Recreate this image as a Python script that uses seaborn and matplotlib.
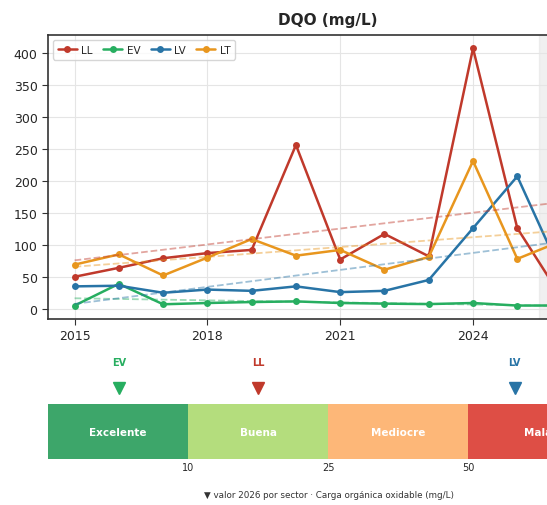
import numpy as np
import pandas as pd
import matplotlib
matplotlib.use('Agg')
import matplotlib.pyplot as plt
import seaborn as sns

# --- data ---
years = list(range(2015, 2027))
ll = [50, 64, 79, 87, 92, 256, 77, 117, 82, 407, 126, 17.5]
ev = [5, 39, 7, 9, 10.5, 11.5, 9, 8, 7.3, 9, 5, 5.1]
lv = [35, 36, 25, 30, 28, 35, 26, 28, 45, 126, 207, 55]
lt = [69, 85, 52, 80, 109, 83, 92, 61, 81, 231, 78, 106]

sectors = ['LL', 'EV', 'LV', 'LT']
colors = {'LL': '#c0392b', 'EV': '#27ae60', 'LV': '#2874a6', 'LT': '#e8961e'}

band_names = ['Excelente', 'Buena', 'Mediocre', 'Mala']
band_edges = [0, 10, 25, 50, 65]
band_colors = ['#3da66a', '#b4dd7d', '#fdb778', '#de4e45']

df = pd.DataFrame({'Año': years, 'LL': ll, 'EV': ev, 'LV': lv, 'LT': lt})
long_df = df.melt(id_vars='Año', var_name='Sector', value_name='DQO')

sns.set_style('whitegrid')
plt.rcParams['font.family'] = ['DejaVu Sans']

fig = plt.figure(figsize=(5.47, 5.06), dpi=100)
ax = fig.add_axes([0.0878, 0.3676, 1.0238, 0.5613])

# highlight current year
ax.axvspan(2025.5, 2026.5, color='#e6e6e6', alpha=0.6, zorder=0)

sns.lineplot(data=long_df, x='Año', y='DQO', hue='Sector', palette=colors,
             marker='o', markersize=5, markeredgewidth=0, linewidth=1.8, ax=ax)

# dashed linear trends
for s in sectors:
    k, b = np.polyfit(df['Año'], df[s], 1)
    xx = np.array([years[0], years[-1]])
    ax.plot(xx, k * xx + b, '--', color=colors[s], alpha=0.45, linewidth=1.3)

ax.set_xlim(2014.4, 2027.05)
ax.set_ylim(-16, 428)
ax.set_xticks([2015, 2018, 2021, 2024, 2027])
ax.set_yticks(range(0, 401, 50))
ax.tick_params(labelsize=9, length=4, color='#333333', left=True, bottom=True)
ax.set_xlabel('')
ax.set_ylabel('')
ax.grid(True, color='#e5e5e5', linewidth=0.8)
for sp in ax.spines.values():
    sp.set_color('#333333')
    sp.set_linewidth(1.2)
ax.set_title('DQO (mg/L)', fontsize=11, fontweight='bold', pad=8)
leg = ax.legend(loc='upper left', ncol=4, fontsize=7.5, handlelength=1.8,
                columnspacing=1.0, handletextpad=0.45, borderpad=0.45,
                frameon=True, title=None)
leg.get_frame().set_edgecolor('#cccccc')

# --- quality bar with 2026 value per sector ---
bx = fig.add_axes([0.0878, 0.0909, 1.0238, 0.1087])
for i, (name, c) in enumerate(zip(band_names, band_colors)):
    bx.barh(0.5, 1, left=i, height=1, color=c, edgecolor='none')
    bx.text(i + 0.5, 0.5, name, ha='center', va='center', color='white',
            fontsize=7.5, fontweight='bold')
bx.set_xlim(0, 4)
bx.set_ylim(0, 1)
bx.set_xticks([1, 2, 3])
bx.set_xticklabels([str(v) for v in band_edges[1:4]])
bx.tick_params(axis='x', length=0, labelsize=7, pad=2)
bx.set_yticks([])
bx.grid(False)
for sp in bx.spines.values():
    sp.set_visible(False)

for s in sectors:
    v = df[s].iloc[-1]
    p = np.interp(v, band_edges, range(len(band_edges)))
    bx.plot(p, 1.29, marker='v', markersize=9, color=colors[s], clip_on=False)
    bx.text(p, 1.76, s, ha='center', va='center', color=colors[s],
            fontsize=7, fontweight='bold', clip_on=False)

fig.text(0.6015, 0.02, '▼ valor 2026 por sector · Carga orgánica oxidable (mg/L)',
         ha='center', va='center', fontsize=6.3, color='#333333')

fig.savefig('out.png', dpi=100)
